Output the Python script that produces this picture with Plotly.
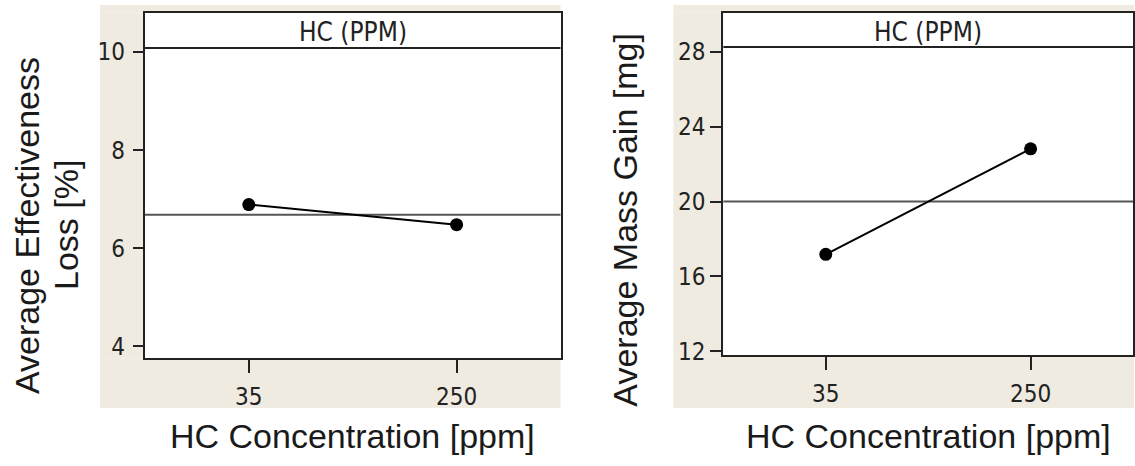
import numpy as np
import plotly.graph_objects as go

W, H = 1135, 466

categories = ["35", "250"]
effectiveness_loss = [6.89, 6.48]
mass_gain = [17.18, 22.82]
left_yticks = [4, 6, 8, 10]
right_yticks = [12, 16, 20, 24, 28]
header_text = "HC (PPM)"
x_title = "HC Concentration [ppm]"
left_y_title_1 = "Average Effectiveness"
left_y_title_2 = "Loss [%]"
right_y_title = "Average Mass Gain [mg]"

TICK_FONT = dict(family="DejaVu Sans Condensed, Liberation Sans Narrow, sans-serif", size=24, color="#222")
TITLE_FONT = dict(family="Liberation Sans, Arial, sans-serif", size=34, color="#1a1a1a")
BEIGE = "#efebe1"
LINE = "#222222"


def px(x):
    return x / W


def py(y):
    return 1 - y / H


fig = go.Figure()
fig.add_trace(go.Scatter(x=categories, y=effectiveness_loss, mode="lines+markers",
                         line=dict(color="black", width=2),
                         marker=dict(color="black", size=13),
                         xaxis="x", yaxis="y", showlegend=False))
fig.add_trace(go.Scatter(x=categories, y=mass_gain, mode="lines+markers",
                         line=dict(color="black", width=2),
                         marker=dict(color="black", size=13),
                         xaxis="x2", yaxis="y2", showlegend=False))

axis_common = dict(showline=True, mirror=True, linecolor=LINE, linewidth=2,
                   ticks="outside", tickwidth=2, tickcolor=LINE,
                   showgrid=False, zeroline=False, tickfont=TICK_FONT, fixedrange=True)

# panel geometry in pixels
LP = dict(bl=100, l=145, r=561, t=13, b=366, bt=5, bb=417)
RP = dict(bl=674, l=724, r=1134, t=13, b=363, bt=5, bb=417)

fig.update_layout(
    width=W, height=H, margin=dict(l=0, r=0, t=0, b=0),
    paper_bgcolor="white", plot_bgcolor="white",
    xaxis=dict(domain=[px(LP["l"]), px(LP["r"])], anchor="y", type="category",
               range=[-0.5, 1.5], ticklen=13, ticklabelstandoff=3, **axis_common),
    yaxis=dict(domain=[py(LP["b"]), py(LP["t"])], anchor="x", range=[3.76, 10.80],
               tickvals=left_yticks, ticklen=10, ticklabelstandoff=3, **axis_common),
    xaxis2=dict(domain=[px(RP["l"]), px(RP["r"])], anchor="y2", type="category",
                range=[-0.5, 1.5], ticklen=13, ticklabelstandoff=3, **axis_common),
    yaxis2=dict(domain=[py(RP["b"]), py(RP["t"])], anchor="x2", range=[11.79, 30.09],
                tickvals=right_yticks, ticklen=11, **axis_common),
)


def beige_strips(p, right_edge):
    rects = [
        (p["bl"], right_edge, p["bt"], p["t"]),      # top strip
        (p["bl"], p["l"], p["t"], p["b"]),           # left strip
        (p["bl"], right_edge, p["b"], p["bb"]),      # bottom strip
    ]
    if right_edge > p["r"]:
        rects.append((p["r"], right_edge, p["t"], p["b"]))
    return [dict(type="rect", xref="paper", yref="paper", x0=px(a), x1=px(b), y0=py(d), y1=py(c),
                 fillcolor=BEIGE, line=dict(width=0), layer="below") for a, b, c, d in rects]


shapes = beige_strips(LP, 561) + beige_strips(RP, 1135) + [
    # header separator lines
    dict(type="line", xref="x domain", yref="y", x0=0, x1=1, y0=10.08, y1=10.08,
         line=dict(color=LINE, width=2)),
    dict(type="line", xref="x2 domain", yref="y2", x0=0, x1=1, y0=28.26, y1=28.26,
         line=dict(color=LINE, width=2)),
    # mean reference lines
    dict(type="line", xref="x domain", yref="y", x0=0, x1=1,
         y0=float(np.mean(effectiveness_loss)), y1=float(np.mean(effectiveness_loss)),
         line=dict(color="#555", width=2), layer="below"),
    dict(type="line", xref="x2 domain", yref="y2", x0=0, x1=1,
         y0=float(np.mean(mass_gain)), y1=float(np.mean(mass_gain)),
         line=dict(color="#555", width=2), layer="below"),
]
fig.update_layout(shapes=shapes)

HEADER_FONT = dict(family="DejaVu Sans Condensed, Liberation Sans Narrow, sans-serif", size=26, color="#222")
annotations = [
    dict(text=header_text, xref="x domain", yref="paper", x=0.5, y=py(33), xanchor="center",
         yanchor="middle", showarrow=False, font=HEADER_FONT),
    dict(text=header_text, xref="x2 domain", yref="paper", x=0.5, y=py(33), xanchor="center",
         yanchor="middle", showarrow=False, font=HEADER_FONT),
    dict(text=x_title, xref="paper", yref="paper", x=px(353), y=py(446), xanchor="center",
         yanchor="middle", showarrow=False, font=TITLE_FONT),
    dict(text=x_title, xref="paper", yref="paper", x=px(929), y=py(446), xanchor="center",
         yanchor="middle", showarrow=False, font=TITLE_FONT),
    dict(text=left_y_title_1, xref="paper", yref="paper", x=px(27), y=py(230), xanchor="center",
         yanchor="middle", showarrow=False, textangle=-90, font=TITLE_FONT),
    dict(text=left_y_title_2, xref="paper", yref="paper", x=px(66), y=py(230), xanchor="center",
         yanchor="middle", showarrow=False, textangle=-90, font=TITLE_FONT),
    dict(text=right_y_title, xref="paper", yref="paper", x=px(626), y=py(224), xanchor="center",
         yanchor="middle", showarrow=False, textangle=-90, font=TITLE_FONT),
]
fig.update_layout(annotations=annotations)

fig.write_html("out.html")
